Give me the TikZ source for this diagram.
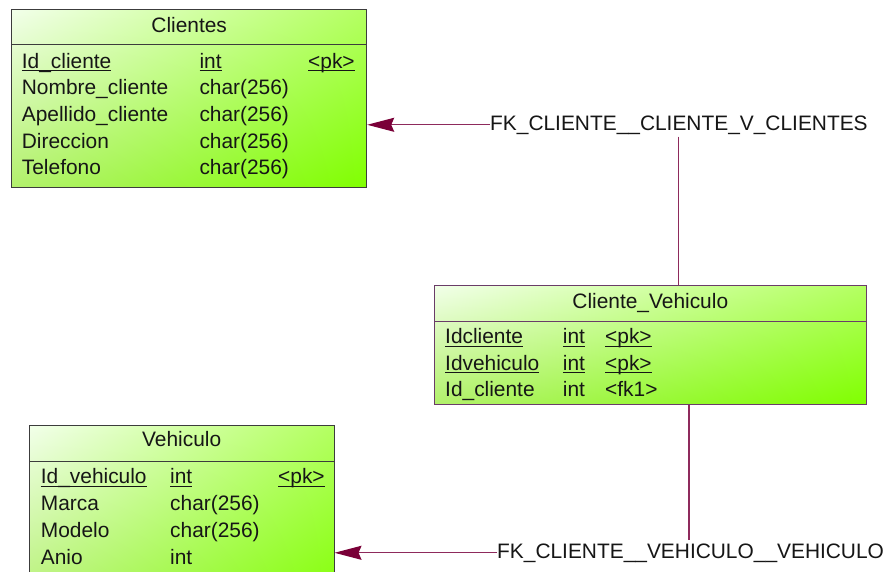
\documentclass[tikz,border=0pt]{standalone}
\usepackage{fontspec}
\setmainfont{Liberation Sans}
\usetikzlibrary{arrows.meta,shadings}
\definecolor{gUL}{HTML}{F2FFEA}
\definecolor{gUR}{HTML}{B4FF62}
\definecolor{gLL}{HTML}{B2F06C}
\definecolor{gLR}{HTML}{80FF00}
\definecolor{tblborder}{HTML}{3C3C3C}
\definecolor{selborder}{HTML}{6A3C68}
\definecolor{fkline}{HTML}{8E2A5C}
\definecolor{fkhead}{HTML}{7A0038}
\definecolor{txtcol}{HTML}{161616}
\newcommand\ulin[1]{\setbox0\hbox{#1}\rlap{\rule[-3.4pt]{\wd0}{1.1pt}}\box0}
\begin{document}
\begin{tikzpicture}[x=1pt,y=-1pt,
  tbl/.style={draw=tblborder, line width=1pt, rectangle, inner sep=0pt,
    upper left=gUL, upper right=gUR, lower left=gLL, lower right=gLR},
  hline/.style={draw=tblborder, line width=1pt},
  txt/.style={inner sep=0pt, text=txtcol, font=\fontsize{20.9}{24}\selectfont, anchor=base west},
  ttl/.style={txt, anchor=base},
  fklabel/.style={txt},
  fk/.style={draw=fkline, line width=1.2pt},
  fkarrow/.style={fk, -{Stealth[length=27pt, width=14pt, inset=3pt, color=fkhead]}}
]
\useasboundingbox (0,0) rectangle (883,571);
\clip (0,0) rectangle (883,571);
\fill[white] (0,0) rectangle (883,571);

% ---------- Clientes ----------
\node[tbl, minimum width=355pt, minimum height=178.4pt] (cli) at (189.2,98.5) {};
\draw[hline] (11.7,44.3) -- (366.7,44.3);
\node[ttl] (clit) at (189.2,32) {Clientes};
\node[txt] (c1a) at (21.7,68) {\ulin{Id\_cliente}};
\node[txt] (c1b) at (199.3,68) {\ulin{int}};
\node[txt] (c1c) at (308,68) {\ulin{<pk>}};
\node[txt] (c2a) at (21.7,94.7) {Nombre\_cliente};
\node[txt] (c2b) at (199.3,94.7) {char(256)};
\node[txt] (c3a) at (21.7,121.3) {Apellido\_cliente};
\node[txt] (c3b) at (199.3,121.3) {char(256)};
\node[txt] (c4a) at (21.7,148) {Direccion};
\node[txt] (c4b) at (199.3,148) {char(256)};
\node[txt] (c5a) at (21.7,174.7) {Telefono};
\node[txt] (c5b) at (199.3,174.7) {char(256)};

% ---------- Cliente_Vehiculo ----------
\node[tbl, draw=selborder, minimum width=432.7pt, minimum height=119pt] (cv) at (650.35,344.5) {};
\draw[hline, draw=selborder] (434,321.7) -- (866.7,321.7);
\node[ttl] (cvt) at (650.3,308) {Cliente\_Vehiculo};
\node[txt] (v1a) at (445,343.3) {\ulin{Idcliente}};
\node[txt] (v1b) at (562.7,343.3) {\ulin{int}};
\node[txt] (v1c) at (605,343.3) {\ulin{<pk>}};
\node[txt] (v2a) at (445,370) {\ulin{Idvehiculo}};
\node[txt] (v2b) at (562.7,370) {\ulin{int}};
\node[txt] (v2c) at (605,370) {\ulin{<pk>}};
\node[txt] (v3a) at (445,396.7) {Id\_cliente};
\node[txt] (v3b) at (562.7,396.7) {int};
\node[txt] (v3c) at (605,396.7) {<fk1>};

% ---------- Vehiculo ----------
\node[tbl, minimum width=304.7pt, minimum height=190pt] (veh) at (181.65,520) {};
\draw[hline] (29.3,461.7) -- (334,461.7);
\node[ttl] (veht) at (181.7,446.7) {Vehiculo};
\node[txt] (h1a) at (40.7,483.3) {\ulin{Id\_vehiculo}};
\node[txt] (h1b) at (170,483.3) {\ulin{int}};
\node[txt] (h1c) at (278,483.3) {\ulin{<pk>}};
\node[txt] (h2a) at (40.7,510.7) {Marca};
\node[txt] (h2b) at (170,510.7) {char(256)};
\node[txt] (h3a) at (40.7,537.3) {Modelo};
\node[txt] (h3b) at (170,537.3) {char(256)};
\node[txt] (h4a) at (40.7,564) {Anio};
\node[txt] (h4b) at (170,564) {int};

% ---------- FK 1 ----------
\node[fklabel] (fk1) at (490,130) {FK\_CLIENTE\_\_CLIENTE\_V\_CLIENTES};
\draw[fkarrow] (fk1.west) -- (fk1.west -| cli.east);
\coordinate (fk1v) at (678.3,136.7);
\draw[fk] (fk1v) -- (fk1v |- cv.north);

% ---------- FK 2 ----------
\node[fklabel] (fk2) at (497,558) {FK\_CLIENTE\_\_VEHICULO\_\_VEHICULO};
\draw[fkarrow] (fk2.west) -- (fk2.west -| veh.east);
\coordinate (fk2v) at (689,539.5);
\draw[fk] (cv.south -| fk2v) -- (fk2v);
\end{tikzpicture}
\end{document}
